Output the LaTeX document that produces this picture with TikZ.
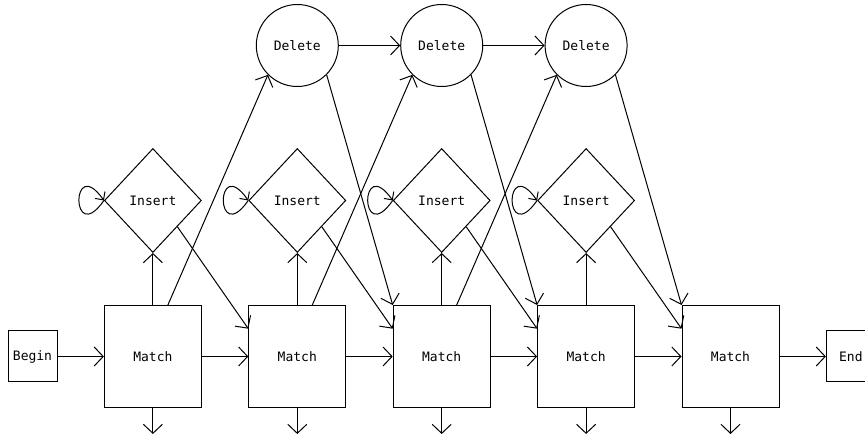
\documentclass[tikz,border=0pt]{standalone}
\usepackage{fontspec}
\setmonofont{DejaVu Sans Mono}
\usepackage{tikz}
\usetikzlibrary{positioning,arrows.meta,shapes.geometric,calc}

\begin{document}
\begin{tikzpicture}[
  x=1pt, y=1pt,
  line width=1pt,
  node distance = 46.4pt,
  font=\ttfamily\fontsize{13}{15}\selectfont,
  matchbox/.style = {
    rectangle, draw,
    minimum width=97pt, minimum height=102pt
  },
  endbox/.style = {
    rectangle, draw,
    minimum width=49pt, minimum height=51pt
  },
  insbox/.style = {
    diamond, draw,
    minimum width=97pt, minimum height=104pt
  },
  delbox/.style = {
    circle, draw, minimum size=82pt
  },
  arr/.style  = {-{Straight Barb[length=9pt,width=19pt]}},
  larr/.style = {-{Straight Barb[length=6pt,width=12pt]}}
]

\useasboundingbox (0,0) rectangle (865,436);

%% ---------- Match row ----------
\node[endbox] (begin) at (32.5,79.5) {Begin};
\node[matchbox, right=of begin] (m1) {Match};
\node[matchbox, right=of m1]    (m2) {Match};
\node[matchbox, right=of m2]    (m3) {Match};
\node[matchbox, right=of m3]    (m4) {Match};
\node[matchbox, right=of m4]    (m5) {Match};
\node[endbox, right=of m5]      (end) {End};

%% ---------- Insert states ----------
\node[insbox, above=52pt of m1] (i1) {Insert};
\node[insbox, above=52pt of m2] (i2) {Insert};
\node[insbox, above=52pt of m3] (i3) {Insert};
\node[insbox, above=52pt of m4] (i4) {Insert};

%% ---------- Delete states ----------
\node[delbox, above=61pt of i2] (d2) {Delete};
\node[delbox, above=61pt of i3] (d3) {Delete};
\node[delbox, above=61pt of i4] (d4) {Delete};

%% ---------- Arrows ----------
\draw[arr] (begin) -- (m1);
\draw[arr] (m1) -- (m2);
\draw[arr] (m2) -- (m3);
\draw[arr] (m3) -- (m4);
\draw[arr] (m4) -- (m5);
\draw[arr] (m5) -- (end);

% match -> out
\draw[arr] (m1.south) -- ++(0,-26);
\draw[arr] (m2.south) -- ++(0,-26);
\draw[arr] (m3.south) -- ++(0,-26);
\draw[arr] (m4.south) -- ++(0,-26);
\draw[arr] (m5.south) -- ++(0,-26);

% match -> insert
\draw[arr] (m1) -- (i1);
\draw[arr] (m2) -- (i2);
\draw[arr] (m3) -- (i3);
\draw[arr] (m4) -- (i4);

% insert self loops
\draw[larr] (i1.west) to[out=-125,in=125,min distance=58pt] (i1.west);
\draw[larr] (i2.west) to[out=-125,in=125,min distance=58pt] (i2.west);
\draw[larr] (i3.west) to[out=-125,in=125,min distance=58pt] (i3.west);
\draw[larr] (i4.west) to[out=-125,in=125,min distance=58pt] (i4.west);

% insert -> next match
\draw[arr] (i1.south east) -- ($(m2.north west)!0.23!(m2.south west)$);
\draw[arr] (i2.south east) -- ($(m3.north west)!0.23!(m3.south west)$);
\draw[arr] (i3.south east) -- ($(m4.north west)!0.23!(m4.south west)$);
\draw[arr] (i4.south east) -- ($(m5.north west)!0.23!(m5.south west)$);

% match -> delete
\draw[arr] ([xshift=15pt]m1.north) -- (d2.-135);
\draw[arr] ([xshift=15pt]m2.north) -- (d3.-135);
\draw[arr] ([xshift=15pt]m3.north) -- (d4.-135);

% delete -> match
\draw[arr] (d2.-45) -- (m3.north west);
\draw[arr] (d3.-45) -- (m4.north west);
\draw[arr] (d4.-45) -- (m5.north west);

% delete -> delete
\draw[arr] (d2) -- (d3);
\draw[arr] (d3) -- (d4);

\end{tikzpicture}
\end{document}
